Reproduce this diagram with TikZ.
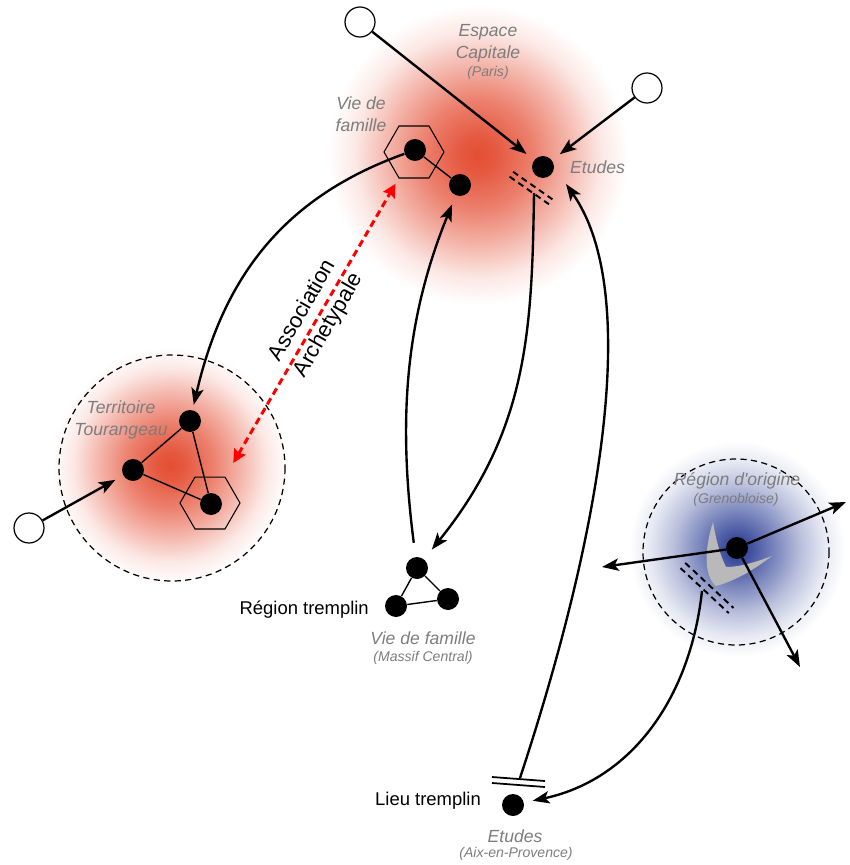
\documentclass[tikz,border=0pt]{standalone}
\usepackage{fontspec}
\setmainfont{Liberation Sans}
\usepackage{tikz}
\usetikzlibrary{arrows.meta,shapes.geometric}
\definecolor{glowred}{RGB}{228,78,52}
\definecolor{glowblue}{RGB}{46,64,150}
\definecolor{labelgray}{RGB}{125,125,125}
\pgfdeclareradialshading{redglow}{\pgfpoint{0bp}{0bp}}{color(0bp)=(glowred);color(3bp)=(glowred!94);color(9bp)=(glowred!72);color(15bp)=(glowred!42);color(20.5bp)=(glowred!13);color(25bp)=(white);color(50bp)=(white)}
\pgfdeclareradialshading{blueglow}{\pgfpoint{0bp}{0bp}}{color(0bp)=(glowblue);color(3bp)=(glowblue!92);color(9bp)=(glowblue!62);color(15bp)=(glowblue!32);color(20.5bp)=(glowblue!11);color(25bp)=(white);color(50bp)=(white)}

\begin{document}
\begin{tikzpicture}[x=0.02cm,y=-0.02cm,
 dot/.style={circle,fill=black,inner sep=0pt,minimum size=4.4mm},
 src/.style={circle,draw,fill=white,inner sep=0pt,minimum size=6mm,line width=0.7pt},
 hexa/.style={regular polygon,regular polygon sides=6,draw,inner sep=0pt,minimum size=1.2cm,line width=0.6pt},
 link/.style={line width=0.8pt},
 flow/.style={line width=1.35pt,-{Stealth[length=9.5pt,width=7pt,inset=2.2pt]}},
 assoc/.style={red,line width=1.7pt,dash pattern=on 4pt off 2.5pt,{Stealth[length=7.5pt,width=7.5pt,inset=1pt]}-{Stealth[length=7.5pt,width=7.5pt,inset=1pt]}},
 cut/.style={line width=1.1pt,dash pattern=on 3.5pt off 2.5pt},
 zone/.style={line width=0.7pt,dash pattern=on 3.5pt off 2.5pt},
 place/.style={text=labelgray,font=\itshape\fontsize{10}{12.5}\selectfont,align=center},
 sublbl/.style={text=labelgray,font=\itshape\fontsize{8}{10}\selectfont},
 stage/.style={font=\fontsize{10.5}{12.5}\selectfont}]
\useasboundingbox (0,0) rectangle (849,865);
\shade[shading=redglow] (478,155) circle[radius=150];
\shade[shading=redglow] (170,465) circle[radius=118];
\shade[shading=blueglow] (737,549) circle[radius=108];
\draw[zone] (172,468) circle[radius=113];
\draw[zone] (736,552) circle[radius=93];
\fill[gray!55] (713,522) .. controls (704,550) and (704,576) .. (716,586)
 .. controls (738,580) and (756,568) .. (772,556)
 .. controls (756,562) and (740,567) .. (726,567)
 .. controls (720,555) and (716,540) .. (713,522) -- cycle;
\node[dot] (pfam) at (415,150) {};
\node[hexa] (phex) at (414,152) {};
\node[dot] (pfam2) at (460,185) {};
\node[dot] (petu) at (543,167) {};
\node[src] (psrc1) at (360,22) {};
\node[src] (psrc2) at (647,88) {};
\coordinate (pcut) at (534,193);
\coordinate (petuin) at (566,184);
\node[dot] (ttop) at (190,421) {};
\node[dot] (tleft) at (133,470) {};
\node[dot] (tfam) at (211,504) {};
\node[hexa] (thex) at (210,503) {};
\node[src] (tsrc) at (29,528) {};
\node[dot] (mtop) at (417,568) {};
\node[dot] (mleft) at (396,606) {};
\node[dot] (mright) at (448,599) {};
\node[dot] (aix) at (513,805) {};
\coordinate (abar) at (520,778);
\node[dot] (gre) at (737,548) {};
\coordinate (gcut) at (702,591);
\coordinate (gout1) at (846,502);
\coordinate (gout2) at (602,567);
\coordinate (gout3) at (800,667);
\foreach \a/\b in {pfam/pfam2,ttop/tleft,tleft/tfam,ttop/tfam,mtop/mleft,mtop/mright,mleft/mright}
 \draw[link] (\a)--(\b);
\foreach \a in {psrc1,psrc2}
 \draw[flow,shorten >=5.5pt] (\a)--(petu);
\draw[flow,shorten >=5pt] (tsrc)--(tleft);
\draw[flow,shorten >=3pt] (pfam) .. controls (290,195) and (225,270) .. (ttop);
\draw[flow,shorten >=7pt] (pcut) .. controls (532,330) and (528,430) .. (mtop);
\draw[flow,shorten <=8pt,shorten >=5.5pt] (mtop) .. controls (398,420) and (405,320) .. (pfam2);
\draw[flow] (abar) .. controls (605,520) and (640,290) .. (petuin);
\draw[flow,shorten >=5pt] (gcut) .. controls (690,700) and (630,780) .. (aix);
\foreach \a in {gout1,gout2,gout3}
 \draw[flow] (gre)--(\a);
\draw[assoc,shorten <=9pt,shorten >=3.5pt] (thex)--(phex);
\begin{scope}[shift={(531,188)},rotate=-35]
 \draw[cut] (-24,-3)--(24,-3) (-24,3)--(24,3);
\end{scope}
\begin{scope}[shift={(707,588)},rotate=-43]
 \draw[cut] (-33,-3.5)--(33,-3.5) (-33,3.5)--(33,3.5);
\end{scope}
\draw[line width=1pt] (492,777)--(545,781) (492,783)--(545,787);
\node[place] (parislbl) at (488,43) {Espace\\Capitale};
\node[sublbl] (parissub) at (488,73) {(Paris)};
\node[place] (pfamlbl) at (361,114) {Vie de\\famille};
\node[place,anchor=west] (petulbl) at (564,167) {Etudes};
\node[place] (tourslbl) at (121,420) {Territoire\\Tourangeau};
\node[stage,anchor=east] (mlbl) at (375,610) {Région tremplin};
\node[place] (mfamlbl) at (423,638) {Vie de famille};
\node[sublbl] (mfamsub) at (423,658) {(Massif Central)};
\node[stage,anchor=east] (albl) at (487,801) {Lieu tremplin};
\node[place] (aetulbl) at (515,836) {Etudes};
\node[sublbl] (aetusub) at (516,854) {(Aix-en-Provence)};
\node[place] (grelbl) at (737,481) {Région d\textquotesingle origine};
\node[sublbl] (gresub) at (736,500) {(Grenobloise)};
\node[rotate=60,align=center,font=\fontsize{12.5}{17}\selectfont] (assoclbl) at (316,318) {Association\\Archetypale};
\end{tikzpicture}
\end{document}
